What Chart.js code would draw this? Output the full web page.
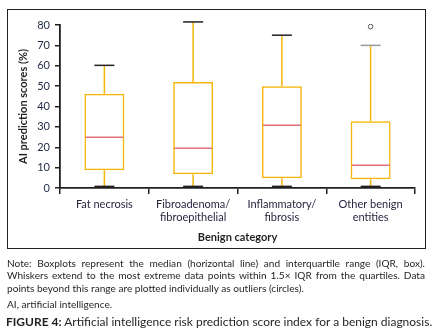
<!DOCTYPE html>
<html>
<head>
<meta charset="utf-8">
<script src="https://cdn.jsdelivr.net/npm/chart.js@4.4.1/dist/chart.umd.min.js"></script>
<style>
  html, body { margin: 0; padding: 0; background: #fff; }
  body { width: 433px; height: 332px; position: relative; overflow: hidden; font-family: Lato, "Open Sans", sans-serif; }
  #wrap { position: absolute; left: 0; top: 0; width: 433px; height: 250px; }
  #frame { position: absolute; left: 6.5px; top: 8.5px; width: 419px; height: 240px; border: 1.5px solid #231f20; box-sizing: border-box; pointer-events: none; }
  .notes { position: absolute; left: 7px; width: 418px; font-size: 10.1px; color: #231f20; line-height: 12.3px; }
  .j { text-align: justify; text-align-last: justify; white-space: nowrap; }
  .l { text-align: left; white-space: nowrap; }
  .cap { position: absolute; left: 6px; top: 313.5px; width: 427px; font-size: 12px; color: #231f20; white-space: nowrap; }
</style>
</head>
<body>
<div id="wrap"><canvas id="c" width="433" height="250"></canvas></div>
<div id="frame"></div>
<div class="notes" style="top:257px;">
  <div class="j">Note: Boxplots represent the median (horizontal line) and interquartile range (IQR, box).</div>
  <div class="j">Whiskers extend to the most extreme data points within 1.5× IQR from the quartiles. Data</div>
  <div class="l">points beyond this range are plotted individually as outliers (circles).</div>
</div>
<div class="notes l" style="top:297.5px;">AI, artificial intelligence.</div>
<div class="cap"><b>FIGURE 4:</b> Artificial intelligence risk prediction score index for a benign diagnosis.</div>
<script>
const categories = [['Fat necrosis'], ['Fibroadenoma/', 'fibroepithelial'], ['Inflammatory/', 'fibrosis'], ['Other benign', 'entities']];
const whiskerLow = [0.8, 0.8, 0.8, 0.8];
const q1 = [8.7, 6.7, 4.8, 4.3];
const median = [24.9, 19.5, 30.8, 11.2];
const q3 = [46.3, 52.0, 50.0, 32.8];
const whiskerHigh = [60.2, 81.5, 75.0, 70.0];
const outliers = [[], [], [], [79.2]];
const yTicks = [0, 10, 20, 30, 40, 50, 60, 70, 80];

const boxColor = '#F5B50A';
const medianColor = '#E0707A';
const capColors = ['#231f20', '#231f20', '#231f20', '#9a9a9a'];
const textColor = '#1f2a44';
const font = 'Lato, "Open Sans", sans-serif';

const boxPlugin = {
  id: 'boxExtras',
  afterDatasetsDraw(chart) {
    const ctx = chart.ctx;
    const xs = chart.scales.x, ys = chart.scales.y;
    const meta = chart.getDatasetMeta(0);
    ctx.save();
    categories.forEach((c, i) => {
      const el = meta.data[i];
      const x = xs.getPixelForValue(i);
      const half = el.width / 2;
      const capHalf = half / 2;
      const yLo = ys.getPixelForValue(whiskerLow[i]);
      const yQ1 = ys.getPixelForValue(q1[i]);
      const yMed = ys.getPixelForValue(median[i]);
      const yQ3 = ys.getPixelForValue(q3[i]);
      const yHi = ys.getPixelForValue(whiskerHigh[i]);
      ctx.strokeStyle = boxColor; ctx.lineWidth = 1.5;
      ctx.beginPath();
      ctx.moveTo(x, yQ3); ctx.lineTo(x, yHi);
      ctx.moveTo(x, yQ1); ctx.lineTo(x, yLo);
      ctx.stroke();
      ctx.strokeStyle = capColors[i]; ctx.lineWidth = 1.5;
      ctx.beginPath();
      ctx.moveTo(x - capHalf, yHi); ctx.lineTo(x + capHalf, yHi);
      ctx.stroke();
      ctx.strokeStyle = '#231f20';
      ctx.beginPath();
      ctx.moveTo(x - capHalf, yLo); ctx.lineTo(x + capHalf, yLo);
      ctx.stroke();
      ctx.strokeStyle = medianColor; ctx.lineWidth = 1.5;
      ctx.beginPath();
      ctx.moveTo(x - half + 1, yMed); ctx.lineTo(x + half - 1, yMed);
      ctx.stroke();
      ctx.strokeStyle = '#555'; ctx.lineWidth = 1;
      outliers[i].forEach(v => {
        ctx.beginPath();
        ctx.arc(x, ys.getPixelForValue(v), 2.3, 0, Math.PI * 2);
        ctx.stroke();
      });
    });
    ctx.restore();
  }
};

new Chart(document.getElementById('c'), {
  type: 'bar',
  data: {
    labels: categories,
    datasets: [{
      data: categories.map((c, i) => [q1[i], q3[i]]),
      backgroundColor: 'rgba(0,0,0,0)',
      borderColor: boxColor,
      borderWidth: 1.5,
      borderSkipped: false,
      barPercentage: 0.45,
      categoryPercentage: 1,
      clip: false
    }]
  },
  options: {
    responsive: false,
    animation: false,
    devicePixelRatio: 1,
    layout: { padding: { left: 0, right: 18, top: 25, bottom: 0 } },
    plugins: { legend: { display: false }, tooltip: { enabled: false } },
    scales: {
      x: {
        afterFit(s) { s.height = 62; },
        border: { display: true, color: '#231f20', width: 1.8 },
        grid: { offset: true, drawOnChartArea: false, drawTicks: true, tickLength: 6, color: '#231f20', lineWidth: 1.5 },
        ticks: { color: '#2a2440', font: { family: font, size: 11 }, padding: 4, maxRotation: 0 },
        title: { display: true, text: 'Benign category', color: '#231f20', font: { family: font, size: 11, weight: 'bold' }, padding: { top: 0, bottom: 6 } }
      },
      y: {
        min: 0, max: 80,
        afterFit(s) { s.width = 60; },
        afterBuildTicks(s) { s.ticks = yTicks.map(v => ({ value: v })); },
        border: { display: true, color: '#231f20', width: 1.8 },
        grid: { drawOnChartArea: false, drawTicks: true, tickLength: 5, color: '#231f20', lineWidth: 1.5 },
        ticks: { color: textColor, font: { family: font, size: 11 }, padding: 5 },
        title: { display: true, text: 'AI prediction scores (%)', color: '#231f20', font: { family: font, size: 11, weight: 'bold' }, padding: { top: 17, bottom: 0 } }
      }
    }
  },
  plugins: [boxPlugin]
});
</script>
</body>
</html>
